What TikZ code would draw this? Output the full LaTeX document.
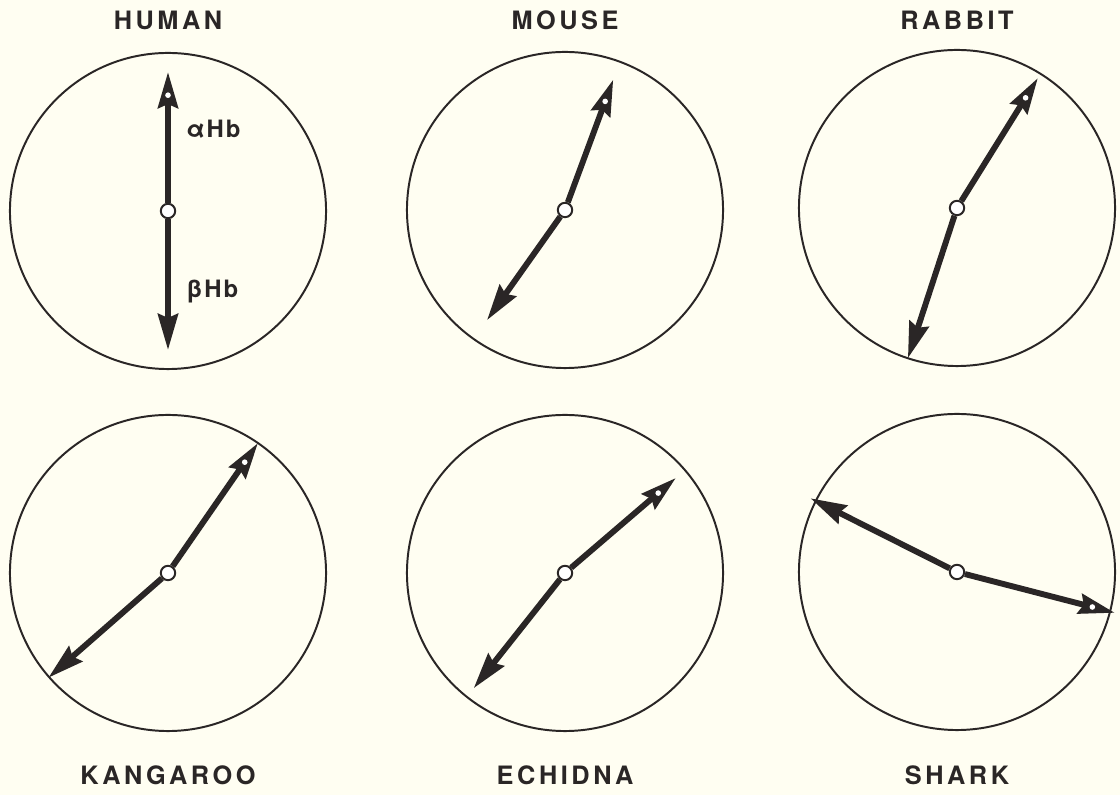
\documentclass[tikz,border=0pt]{standalone}
\usepackage{fontspec}
\setsansfont{TeX Gyre Heros}
\newfontfamily\namefont[LetterSpace=14]{TeX Gyre Heros}
\newfontfamily\chainfont[LetterSpace=8]{TeX Gyre Heros}
\usetikzlibrary{arrows.meta, calc}
\definecolor{paper}{RGB}{255,254,242}
\definecolor{ink}{RGB}{42,38,38}

\tikzset{
  dial/.style={draw=ink, line width=1.4pt},
  hub/.style={circle, draw=ink, fill=white, line width=1.4pt, inner sep=0pt, minimum size=0.36cm},
  chain/.style={ink, line width=4.2pt, -{Stealth[length=0.9cm, width=0.5cm, inset=0.1cm]}},
  species/.style={text=ink, font=\namefont\bfseries\fontsize{18}{20}\selectfont},
  chainlabel/.style={text=ink, anchor=west, inner sep=0pt, font=\chainfont\bfseries\fontsize{17}{19}\selectfont},
}

\begin{document}
\begin{tikzpicture}[x=0.025cm, y=0.025cm]
  \useasboundingbox[fill=paper] (0,0) rectangle (1120,795);
  % one dial per species: centre, name height, alpha and beta directions
  \foreach \i/\cx/\cy/\nm/\ny/\aa/\al/\ba/\bl in {
      1/168/584/HUMAN/775/90/139/270/139,
      2/565/585/MOUSE/775/69.7/139/234.7/135,
      3/957/587/RABBIT/775/58.1/153/251.9/158,
      4/168/222/KANGAROO/20/55.3/158/221.2/159,
      5/565/222/ECHIDNA/20/40.6/146/231.6/147,
      6/957/223/SHARK/20/-14.5/163/153.3/164} {
    \begin{scope}[shift={(\cx,\cy)}]
      \draw[dial] (0,0) circle (3.95cm);
      \node[hub] (c\i) at (0,0) {};
      \coordinate (a\i) at (\aa:\al);
      \coordinate (b\i) at (\ba:\bl);
      \draw[chain] (c\i) -- (a\i);
      \draw[chain] (c\i) -- (b\i);
      \fill[white] ($(a\i)!0.58cm!(c\i.center)$) circle (0.07cm);
      \node[species] (n\i) at (0,{\ny-\cy}) {\nm};
    \end{scope}
  }
  % chain labels on the human dial
  \node[chainlabel] (alpha) at (186,666) {αHb};
  \node[chainlabel] (beta) at (186,503) {βHb};
\end{tikzpicture}
\end{document}
